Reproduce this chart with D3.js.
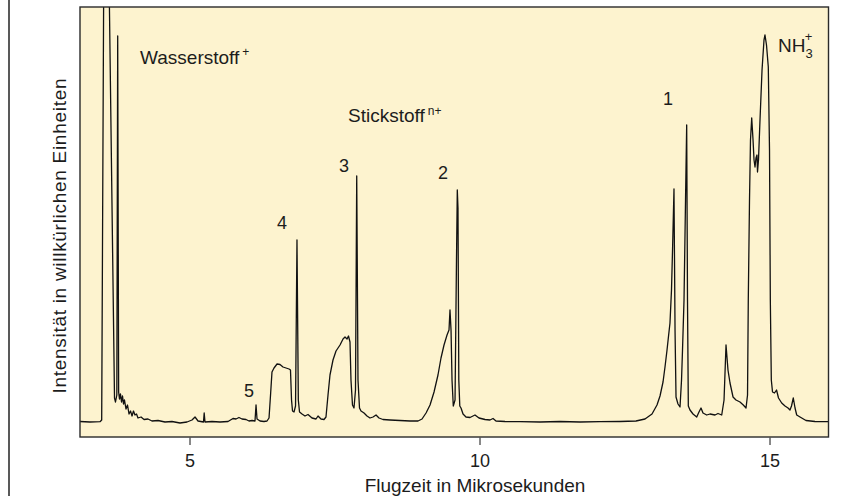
<!DOCTYPE html>
<html>
<head>
<meta charset="utf-8">
<script src="https://cdn.jsdelivr.net/npm/d3@7/dist/d3.min.js"></script>
<style>
    body { margin: 0; background: #fff; }
    text { font-family: "Liberation Sans", Arial, sans-serif; fill: #1c1c1c; }
</style>
</head>
<body>
<div id="main"></div>
<script>
// flight time in microseconds
var flightTime = [
    3.112, 3.284, 3.457, 3.486, 3.529, 3.591, 3.707, 3.724, 3.747, 3.762,
    3.778, 3.793, 3.810, 3.828, 3.845, 3.862, 3.879, 3.905, 3.931, 3.957,
    3.983, 4.009, 4.034, 4.060, 4.086, 4.112, 4.164, 4.216, 4.284, 4.353,
    4.457, 4.578, 4.698, 4.836, 4.957, 5.043, 5.095, 5.147, 5.241, 5.253,
    5.267, 5.388, 5.526, 5.664, 5.750, 5.802, 5.853, 5.905, 5.974, 6.026,
    6.078, 6.129, 6.147, 6.164, 6.216, 6.284, 6.336, 6.371, 6.397, 6.422,
    6.457, 6.509, 6.560, 6.612, 6.664, 6.716, 6.741, 6.759, 6.776, 6.802,
    6.828, 6.853, 6.876, 6.897, 6.940, 6.991, 7.043, 7.112, 7.181, 7.216,
    7.267, 7.319, 7.353, 7.388, 7.422, 7.474, 7.526, 7.595, 7.647, 7.681,
    7.716, 7.741, 7.767, 7.784, 7.810, 7.836, 7.862, 7.883, 7.905, 7.931,
    7.957, 8.009, 8.060, 8.112, 8.164, 8.216, 8.267, 8.336, 8.457, 8.629,
    8.802, 8.940, 9.009, 9.078, 9.147, 9.216, 9.284, 9.336, 9.388, 9.440,
    9.474, 9.491, 9.509, 9.526, 9.548, 9.578, 9.603, 9.617, 9.629, 9.643,
    9.660, 9.681, 9.716, 9.767, 9.836, 9.922, 9.991, 10.095, 10.181, 10.233,
    10.284, 10.440, 10.698, 11.043, 11.388, 11.733, 12.078, 12.422, 12.698, 12.853,
    12.974, 13.060, 13.112, 13.164, 13.198, 13.233, 13.259, 13.284, 13.310, 13.328,
    13.353, 13.371, 13.388, 13.422, 13.457, 13.483, 13.500, 13.526, 13.552, 13.572,
    13.586, 13.600, 13.629, 13.681, 13.745, 13.784, 13.819, 13.853, 13.917, 13.974,
    14.060, 14.112, 14.176, 14.216, 14.250, 14.284, 14.319, 14.371, 14.422, 14.491,
    14.548, 14.595, 14.621, 14.634, 14.655, 14.672, 14.693, 14.716, 14.733, 14.750,
    14.767, 14.784, 14.793, 14.810, 14.836, 14.871, 14.905, 14.922, 14.948, 14.979,
    15.000, 15.014, 15.031, 15.052, 15.086, 15.121, 15.155, 15.210, 15.267, 15.319,
    15.353, 15.379, 15.410, 15.440, 15.469, 15.526, 15.629, 15.784, 16.017
];

// intensity in arbitrary units (baseline = 0)
var intensity = [
    0.5, 0, 0.3, 2, 542, 542, 24, 20, 27, 386,
    30, 23, 28, 20, 26, 18, 22, 13, 17, 8,
    11, 6, 11, 7, 8, 4, 5, 2.5, 3, 1,
    1.5, 0, 0.5, -1, 0, 2, 5, 1, 0, 9,
    0, 0.5, 0, 0.5, 3.5, 3, 4.5, 3, 2.5, 1,
    1.5, 1, 17, 3, 1, 0.5, 1, 4, 27, 50,
    54, 58, 57.5, 55, 54, 53, 52, 22, 11, 10,
    16, 182, 22, 10, 8, 6, 7.5, 4, 3, 6,
    3, 2.5, 5, 27, 47, 62, 71, 77, 83, 85,
    83, 86, 80, 42, 17, 14, 32, 246, 42, 14,
    11, 9, 6, 4, 5, 7, 4, 2.5, 2, 1.5,
    1, 1, 3, 9, 17, 30, 47, 64, 77, 87,
    92, 112, 92, 42, 16, 22, 162, 232, 214, 42,
    16, 14, 8, 5, 4.5, 7, 4, 2.5, 2, 3.5,
    1, 0.5, 0.3, 0, 0.5, 0, 0.3, 0.5, 1, 3,
    8, 17, 26, 40, 55, 72, 86, 99, 132, 172,
    233, 92, 25, 18, 15, 42, 72, 122, 222, 297,
    122, 16, 12, 8, 5, 10, 14, 9, 7, 8,
    7, 8.5, 7, 22, 77, 52, 39, 25, 22, 20,
    17, 14, 27, 122, 222, 282, 304, 282, 262, 255,
    264, 267, 250, 262, 302, 352, 382, 387, 377, 355,
    272, 122, 42, 30, 29, 32, 24, 19, 16, 14,
    12, 16, 24, 14, 7, 5, 1.5, 0.5, 0.3
];

var xTicks = [5, 10, 15];

// peak annotations: label text, time, intensity of the text baseline
var labelText = ["1", "2", "3", "4", "5"];
var labelTime = [13.25, 9.371, 7.664, 6.595, 6.026];
var labelLevel = [317, 243, 250, 193, 25];

var ctx = {
    w: 866,
    h: 496,
    left: 80,
    right: 828.5,
    top: 7,
    bottom: 437,
    bg: "#fdf3cf",
};

var createChart = function(svg) {
    var x = d3.scaleLinear().domain([3.112, 16.017]).range([ctx.left, ctx.right]);
    var y = d3.scaleLinear().domain([-15, 415]).range([ctx.bottom, ctx.top]);

    // outer page rule on the left
    svg.append("line")
        .attr("x1", 9).attr("x2", 9)
        .attr("y1", 0).attr("y2", ctx.h)
        .style("stroke", "#222")
        .style("stroke-width", 1.5);

    // plot background
    svg.append("rect")
        .attr("x", ctx.left).attr("y", ctx.top)
        .attr("width", ctx.right - ctx.left)
        .attr("height", ctx.bottom - ctx.top)
        .style("fill", ctx.bg);

    svg.append("clipPath").attr("id", "clip")
        .append("rect")
        .attr("x", ctx.left).attr("y", ctx.top)
        .attr("width", ctx.right - ctx.left)
        .attr("height", ctx.bottom - ctx.top);

    var data = flightTime.map(function(t, i) { return {t: t, v: intensity[i]}; });

    var line = d3.line()
        .x(function(d) { return x(d.t); })
        .y(function(d) { return y(d.v); });

    svg.append("path")
        .datum(data)
        .attr("clip-path", "url(#clip)")
        .attr("d", line)
        .style("fill", "none")
        .style("stroke", "#111")
        .style("stroke-width", 1.3)
        .style("stroke-linejoin", "round");

    // frame on top of the trace
    svg.append("rect")
        .attr("x", ctx.left).attr("y", ctx.top)
        .attr("width", ctx.right - ctx.left)
        .attr("height", ctx.bottom - ctx.top)
        .style("fill", "none")
        .style("stroke", "#2a2a2a")
        .style("stroke-width", 1.4);

    // x axis, ticks only outside
    var axis = svg.append("g")
        .attr("transform", "translate(0," + ctx.bottom + ")")
        .call(d3.axisBottom(x).tickValues(xTicks).tickSize(8).tickPadding(9).tickFormat(d3.format("d")));
    axis.select(".domain").remove();
    axis.selectAll(".tick line").style("stroke", "#555").style("stroke-width", 1.4);
    axis.selectAll(".tick text")
        .style("font-size", "18px")
        .style("font-family", "'Liberation Sans', Arial, sans-serif")
        .style("fill", "#1c1c1c");

    svg.append("text")
        .attr("x", 475).attr("y", 492)
        .attr("text-anchor", "middle")
        .style("font-size", "19px")
        .text("Flugzeit in Mikrosekunden");

    svg.append("text")
        .attr("transform", "translate(66,236) rotate(-90)")
        .attr("text-anchor", "middle")
        .attr("textLength", 315)
        .attr("lengthAdjust", "spacing")
        .style("font-size", "19px")
        .text("Intensität in willkürlichen Einheiten");

    // species labels
    var w = svg.append("text")
        .attr("x", x(4.147)).attr("y", y(358))
        .style("font-size", "19px");
    w.append("tspan").text("Wasserstoff");
    w.append("tspan").attr("dx", 3).attr("dy", -8).style("font-size", "12px").text("+");

    var s = svg.append("text")
        .attr("x", x(7.733)).attr("y", y(300))
        .style("font-size", "19px");
    s.append("tspan").text("Stickstoff");
    s.append("tspan").attr("dx", 3).attr("dy", -7).style("font-size", "12px").text("n+");

    var n = svg.append("text")
        .attr("x", x(15.147)).attr("y", y(370))
        .style("font-size", "19px");
    n.append("tspan").text("NH");
    n.append("tspan").attr("dy", 6).style("font-size", "13px").text("3");
    n.append("tspan").attr("dx", -8).attr("dy", -17).style("font-size", "13px").text("+");

    svg.selectAll(".peak")
        .data(labelText)
        .enter().append("text")
        .attr("class", "peak")
        .attr("x", function(d, i) { return x(labelTime[i]); })
        .attr("y", function(d, i) { return y(labelLevel[i]); })
        .attr("text-anchor", "middle")
        .style("font-size", "18px")
        .text(function(d) { return d; });
};

var createViz = function() {
    var svgEl = d3.select("#main").append("svg")
        .attr("width", ctx.w)
        .attr("height", ctx.h);
    createChart(svgEl);
};

createViz();
</script>
</body>
</html>
